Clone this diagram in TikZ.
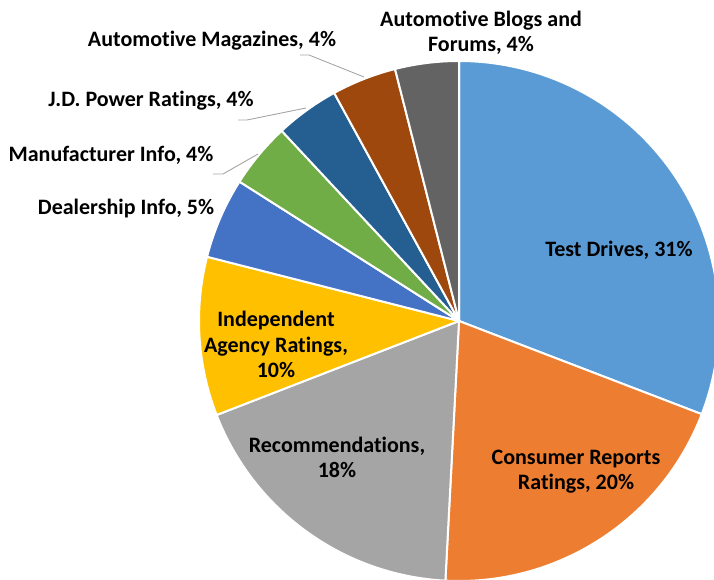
\documentclass[tikz,border=0pt]{standalone}
\usepackage{fontspec}
\setmainfont{Carlito}[Ligatures=NoCommon]
\definecolor{tdblue}{HTML}{5B9BD5}
\definecolor{crorange}{HTML}{ED7D31}
\definecolor{recgray}{HTML}{A5A5A5}
\definecolor{iagold}{HTML}{FFC000}
\definecolor{dlblue}{HTML}{4472C4}
\definecolor{mfgreen}{HTML}{70AD47}
\definecolor{jdblue}{HTML}{255E91}
\definecolor{mgbrown}{HTML}{9E480E}
\definecolor{blgray}{HTML}{636363}
\tikzset{
  slice/.style={draw=white, line width=2pt, line join=round},
  lbl/.style={font=\fontsize{22}{25.5}\selectfont\bfseries, align=center, anchor=base, inner sep=0pt},
  leader/.style={draw=gray!70, line width=0.9pt}
}
\begin{document}
\begin{tikzpicture}[x=1pt,y=1pt]
        \useasboundingbox (0,0) rectangle (714,580);
        \clip (0,0) rectangle (714,580);
        \coordinate (c) at (459,259);

        \filldraw[slice, fill=tdblue]   (c) -- ++(90:260) arc[start angle=90, end angle=-21, radius=260] -- cycle;
        \filldraw[slice, fill=crorange] (c) -- ++(-21:260) arc[start angle=-21, end angle=-93, radius=260] -- cycle;
        \filldraw[slice, fill=recgray]  (c) -- ++(-93:260) arc[start angle=-93, end angle=-158.8, radius=260] -- cycle;
        \filldraw[slice, fill=iagold]   (c) -- ++(-158.8:260) arc[start angle=-158.8, end angle=-194.3, radius=260] -- cycle;
        \filldraw[slice, fill=dlblue]   (c) -- ++(-194.3:260) arc[start angle=-194.3, end angle=-212.4, radius=260] -- cycle;
        \filldraw[slice, fill=mfgreen]  (c) -- ++(-212.4:260) arc[start angle=-212.4, end angle=-227, radius=260] -- cycle;
        \filldraw[slice, fill=jdblue]   (c) -- ++(-227:260) arc[start angle=-227, end angle=-241.3, radius=260] -- cycle;
        \filldraw[slice, fill=mgbrown]  (c) -- ++(-241.3:260) arc[start angle=-241.3, end angle=-255.75, radius=260] -- cycle;
        \filldraw[slice, fill=blgray]   (c) -- ++(-255.75:260) arc[start angle=-255.75, end angle=-270, radius=260] -- cycle;

        % multi-line labels sit on the baseline of their last line
        \node[lbl] (testdrives) at (619,323) {Test Drives, 31\%};
        \node[lbl] (consumer) at (576,90) {Consumer Reports\\Ratings, 20\%};
        \node[lbl] (recommend) at (337,102) {Recommendations,\\18\%};
        \node[lbl] (agency) at (276,202) {Independent\\Agency Ratings,\\10\%};
        \node[lbl] (dealer) at (126,365) {Dealership Info, 5\%};
        \node[lbl] (manuf) at (111,418) {Manufacturer Info, 4\%};
        \node[lbl] (jdpower) at (151,473) {J.D. Power Ratings, 4\%};
        \node[lbl] (magazines) at (212,533) {Automotive Magazines, 4\%};
        \node[lbl] (blogs) at (481,528) {Automotive Blogs and\\Forums, 4\%};

        \coordinate (magfoot) at (300,525);
        \coordinate (magtip) at (364,503);
        \coordinate (jdfoot) at (238,460);
        \coordinate (jdtip) at (306,472);
        \coordinate (mffoot) at (213,406);
        \coordinate (mftip) at (258,426);
        \draw[leader] (magfoot) -- ++(9,0) -- (magtip);
        \draw[leader] (jdfoot) -- ++(9,0) -- (jdtip);
        \draw[leader] (mffoot) -- ++(10,0) -- (mftip);
\end{tikzpicture}
\end{document}
